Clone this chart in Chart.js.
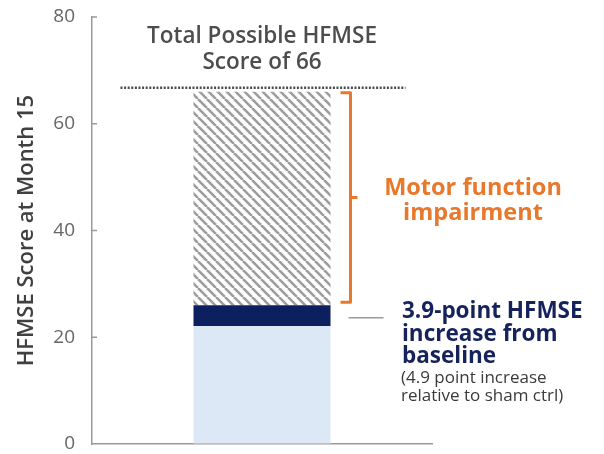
<!DOCTYPE html>
<html>
<head>
<meta charset="utf-8">
<script src="https://cdn.jsdelivr.net/npm/chart.js@4/dist/chart.umd.min.js"></script>
<style>
  html, body { margin: 0; padding: 0; background: #fff; }
  #wrap { width: 604px; height: 454px; }
</style>
</head>
<body>
<div id="wrap"><canvas id="c" width="604" height="454"></canvas></div>
<script>
// HFMSE score at month 15, split into stacked segments
const categories = ['Treated'];
const baselineScore = [22.1];        // score carried from baseline
const increaseFromBaseline = [3.9];  // gain from baseline
const motorImpairment = [40.0];      // gap up to the maximum possible score
const maxPossibleScore = 66;
const yTicks = [0, 20, 40, 60, 80];

const FONT = '"Open Sans", "Noto Sans", sans-serif';
const AXIS_GREY = '#9a9a9a';

function hatchPattern() {
  const s = 9;
  const p = document.createElement('canvas');
  p.width = s; p.height = s;
  const g = p.getContext('2d');
  g.fillStyle = '#ffffff';
  g.fillRect(0, 0, s, s);
  g.strokeStyle = '#9d9d9d';
  g.lineWidth = 2.6;
  g.beginPath();
  for (const k of [-s, 0, s]) {
    g.moveTo(k, 0);
    g.lineTo(k + s, s);
  }
  g.stroke();
  return document.getElementById('c').getContext('2d').createPattern(p, 'repeat');
}

const annotations = {
  id: 'annotations',
  afterDatasetsDraw(chart) {
    const { ctx, scales: { y } } = chart;
    const meta = chart.getDatasetMeta(2).data[0];
    const barLeft = meta.x - meta.width / 2;
    const barRight = meta.x + meta.width / 2;
    ctx.save();

    // short inward tick marks on the value axis
    ctx.strokeStyle = AXIS_GREY;
    ctx.lineWidth = 1.5;
    ctx.beginPath();
    for (const v of yTicks) {
      if (v === 0) continue;
      const py = y.getPixelForValue(v);
      ctx.moveTo(y.right, py);
      ctx.lineTo(y.right + 5, py);
    }
    ctx.stroke();

    // dotted line marking the maximum score
    const yMax = y.getPixelForValue(maxPossibleScore) - 4;
    ctx.strokeStyle = '#4a4a4a';
    ctx.lineWidth = 2.5;
    ctx.setLineDash([2, 1.6]);
    ctx.beginPath();
    ctx.moveTo(barLeft - 73, yMax);
    ctx.lineTo(barRight + 75, yMax);
    ctx.stroke();
    ctx.setLineDash([]);

    // bracket spanning the impairment segment
    const top = baselineScore[0] + increaseFromBaseline[0] + motorImpairment[0];
    const bottom = baselineScore[0] + increaseFromBaseline[0];
    const bt = y.getPixelForValue(top) + 1;
    const bb = y.getPixelForValue(bottom) - 3;
    const bx = barRight + 20;
    const bm = (bt + bb) / 2;
    ctx.strokeStyle = '#e8782c';
    ctx.lineWidth = 3;
    ctx.lineJoin = 'round';
    ctx.beginPath();
    ctx.moveTo(bx - 10, bt);
    ctx.lineTo(bx, bt);
    ctx.lineTo(bx, bb);
    ctx.lineTo(bx - 10, bb);
    ctx.moveTo(bx, bm);
    ctx.lineTo(bx + 7, bm);
    ctx.stroke();

    // leader from the increase segment
    const ly = y.getPixelForValue(baselineScore[0] + increaseFromBaseline[0] / 2) + 2;
    ctx.strokeStyle = AXIS_GREY;
    ctx.lineWidth = 1.5;
    ctx.beginPath();
    ctx.moveTo(barRight + 18, ly);
    ctx.lineTo(barRight + 53, ly);
    ctx.stroke();

    ctx.textBaseline = 'middle';
    // heading above the bar
    ctx.fillStyle = '#4d4d4d';
    ctx.textAlign = 'center';
    ctx.font = '600 22.5px ' + FONT;
    ctx.fillText('Total Possible HFMSE', meta.x, 37);
    ctx.fillText('Score of 66', meta.x, 63);

    // impairment label
    ctx.fillStyle = '#e8782c';
    ctx.font = '700 23.5px ' + FONT;
    ctx.fillText('Motor function', 473, 188);
    ctx.fillText('impairment', 473, 213);

    // increase label
    ctx.textAlign = 'left';
    ctx.fillStyle = '#15235a';
    ctx.font = '700 22.5px ' + FONT;
    ctx.fillText('3.9-point HFMSE', 402, 312);
    ctx.fillText('increase from', 402, 335);
    ctx.fillText('baseline', 402, 357);
    ctx.fillStyle = '#3a3a3a';
    ctx.font = '400 17px ' + FONT;
    ctx.fillText('(4.9 point increase', 401, 378);
    ctx.fillText('relative to sham ctrl)', 401, 396);

    ctx.restore();
  }
};

new Chart(document.getElementById('c'), {
  type: 'bar',
  data: {
    labels: categories,
    datasets: [
      { label: 'Baseline', data: baselineScore, backgroundColor: '#dce8f5' },
      { label: 'Increase from baseline', data: increaseFromBaseline, backgroundColor: '#0c1f5e' },
      { label: 'Motor function impairment', data: motorImpairment, backgroundColor: hatchPattern() }
    ]
  },
  options: {
    responsive: false,
    animation: false,
    layout: { padding: { top: 17, right: 172, bottom: 10, left: 0 } },
    plugins: { legend: { display: false }, tooltip: { enabled: false } },
    datasets: { bar: { barPercentage: 0.403, categoryPercentage: 1.0, borderWidth: 0 } },
    scales: {
      x: {
        stacked: true,
        grid: { display: false },
        ticks: { display: false },
        border: { display: true, color: AXIS_GREY, width: 1.5 },
        afterFit(scale) {
          scale.height = 0;
          scale.paddingLeft = 0; scale.paddingRight = 0;
        }
      },
      y: {
        stacked: true,
        min: 0,
        max: 80,
        afterBuildTicks(scale) { scale.ticks = yTicks.map(v => ({ value: v })); },
        afterFit(scale) {
          scale.width = 92;
          scale.paddingTop = 0; scale.paddingBottom = 0;
        },
        grid: { drawOnChartArea: false, drawTicks: false },
        border: { display: true, color: AXIS_GREY, width: 1.5 },
        ticks: { color: '#666666', font: { family: FONT, size: 19 }, padding: 17 },
        title: {
          display: true,
          text: 'HFMSE Score at Month 15',
          color: '#404040',
          font: { family: FONT, size: 22, weight: '600' },
          padding: { top: 14, bottom: 0 }
        }
      }
    }
  },
  plugins: [annotations]
});
</script>
</body>
</html>
